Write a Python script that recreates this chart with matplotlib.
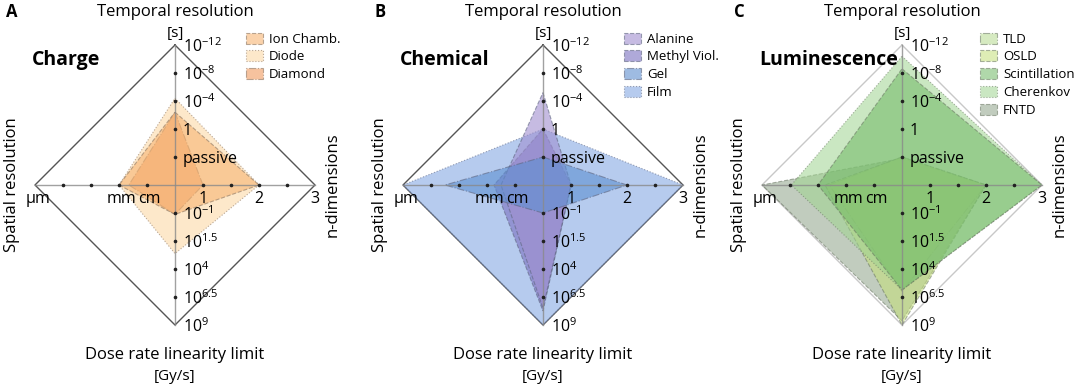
import matplotlib
matplotlib.use('Agg')
import matplotlib.pyplot as plt
from matplotlib.patches import Polygon

plt.rcParams['font.family'] = ['Open Sans', 'DejaVu Sans']
plt.rcParams['mathtext.default'] = 'regular'

# tick labels along the four spokes (top, right, bottom, left)
levels = [0.2, 0.4, 0.6, 0.8, 1.0]
time_ticks = ['passive', '1', '$10^{-4}$', '$10^{-8}$', '$10^{-12}$']
dim_ticks = ['1', '', '2', '', '3']
dose_ticks = ['$10^{-1}$', '$10^{1.5}$', '$10^{4}$', '$10^{6.5}$', '$10^{9}$']
space_ticks = ['cm', 'mm', '', '', 'µm']

# values as fraction of spoke: [temporal, n-dimensions, dose rate, spatial]
charge_names = ['Ion Chamb.', 'Diode', 'Diamond']
charge_vals = [[0.52, 0.6, 0.21, 0.40],
               [0.62, 0.6, 0.49, 0.40],
               [0.52, 0.2, 0.21, 0.33]]

chem_names = ['Alanine', 'Methyl Viol.', 'Gel', 'Film']
chem_vals = [[0.66, 0.2, 0.88, 0.30],
             [0.40, 0.2, 0.90, 0.35],
             [0.20, 0.6, 0.20, 0.70],
             [0.40, 1.0, 1.00, 1.00]]

lum_names = ['TLD', 'OSLD', 'Scintillation', 'Cherenkov', 'FNTD']
lum_vals = [[0.20, 0.6, 0.76, 0.52],
            [0.20, 0.6, 1.00, 0.55],
            [0.83, 1.0, 0.75, 0.60],
            [0.92, 1.0, 0.75, 0.79],
            [0.19, 0.6, 0.97, 1.00]]

# (letter, title, names, values, colours, line styles, draw order, edge, frame, centre px, legend x, alpha)
panels = [
    ('A', 'Charge', charge_names, charge_vals,
     ['#f7b574', '#fcd9a8', '#f19a5e'], ['--', ':', '-.'], [2, 0, 1],
     '#8c7560', '#555555', 175, 0.46, 0.6),
    ('B', 'Chemical', chem_names, chem_vals,
     ['#a08fd0', '#7b70c0', '#5d8fd0', '#86a9e4'], ['--', '--', '-.', ':'], [2, 1, 3, 0],
     '#5f6680', '#555555', 543, 0.53, 0.6),
    ('C', 'Luminescence', lum_names, lum_vals,
     ['#b5d98f', '#c4df78', '#6fb864', '#a0d490', '#8fa289'], ['-.', '--', '--', ':', '--'], [1, 2, 4, 3, 0],
     '#66735f', '#c8c8c8', 902, 0.51, 0.55),
]

W, H = 1074, 389
R = 140.0   # spoke length in px
CY = 185.0  # centre height from top in px
HALF = 178.0

fig = plt.figure(figsize=(W / 100, H / 100), dpi=100)

for letter, title, names, vals, colors, styles, order, edge, frame_col, cx, leg_x, alpha in panels:
    ax = fig.add_axes([(cx - HALF) / W, 0, 2 * HALF / W, 1])
    ax.set_xlim(-HALF / R, HALF / R)
    ax.set_ylim(-(H - CY) / R, CY / R)
    ax.axis('off')

    handles = []
    for v, c, ls, name, z in zip(vals, colors, styles, names, order):
        t, r, b, l = v
        p = Polygon([(0, t), (r, 0), (0, -b), (-l, 0)], closed=True,
                    facecolor=c, edgecolor=edge, linestyle=ls, linewidth=0.8,
                    alpha=alpha, label=name, zorder=2 + z * 0.01)
        ax.add_patch(p)
        handles.append(p)

    # outer diamond and spokes
    ax.plot([0, 1, 0, -1, 0], [1, 0, -1, 0, 1], color=frame_col, lw=1.0, zorder=1)
    ax.plot([-1, 1], [0, 0], color='#8a8a8a', lw=1.0, alpha=0.8, zorder=3)
    ax.plot([0, 0], [-1, 1], color='#8a8a8a', lw=1.0, alpha=0.8, zorder=3)
    ticks = levels[:-1]
    ax.plot([0] * len(ticks) * 2, ticks + [-x for x in ticks], 'o', color='#222222', ms=1.6, zorder=4)
    ax.plot(ticks + [-x for x in ticks], [0] * len(ticks) * 2, 'o', color='#222222', ms=1.6, zorder=4)

    for lv, lab in zip(levels, time_ticks):
        ax.text(0.055, lv - 0.015, lab, fontsize=11.5, ha='left', va='center', zorder=5)
    for lv, lab in zip(levels, dose_ticks):
        ax.text(0.055, -lv - 0.01, lab, fontsize=11.5, ha='left', va='center', zorder=5)
    for lv, lab in zip(levels, dim_ticks):
        ax.text(lv, -0.1, lab, fontsize=11.5, ha='center', va='center', zorder=5)
    for lv, lab in zip(levels, space_ticks):
        ax.text(-lv + 0.02, -0.1, lab, fontsize=11.5, ha='center', va='center', zorder=5)

    ax.text(0, (CY - 12) / R, 'Temporal resolution', fontsize=12, ha='center', va='center')
    ax.text(0, (CY - 33) / R, '[s]', fontsize=11, ha='center', va='center')
    ax.text(0, (CY - 355) / R, 'Dose rate linearity limit', fontsize=12, ha='center', va='center')
    ax.text(0, (CY - 377) / R, '[Gy/s]', fontsize=11, ha='center', va='center')
    ax.text(-(163) / R, 0, 'Spatial resolution', fontsize=12, rotation=90, ha='center', va='center')
    ax.text(158 / R, 0, 'n-dimensions', fontsize=12, rotation=90, ha='center', va='center')
    ax.text(-(143) / R, (CY - 60) / R, title, fontsize=14, fontweight='bold', ha='left', va='center')
    ax.text(-(163) / R, (CY - 12) / R, letter, fontsize=12, fontweight='bold', ha='center', va='center')

    ax.legend(handles=handles, loc='upper left', bbox_to_anchor=(leg_x, (CY - 26) / R),
              bbox_transform=ax.transData, frameon=False, fontsize=9.5, borderpad=0,
              handlelength=1.3, handleheight=0.9, handletextpad=0.45, labelspacing=0.36)

fig.savefig('out.png', dpi=100)
